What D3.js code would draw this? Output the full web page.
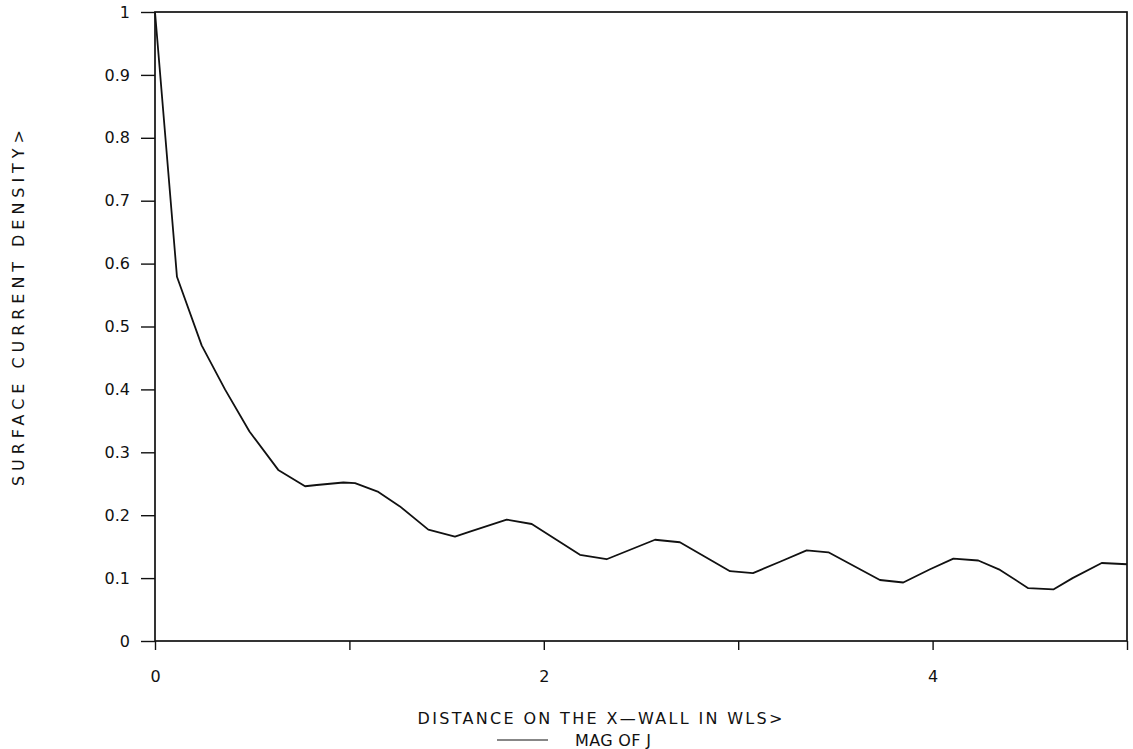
<!DOCTYPE html>
<html>
<head>
<meta charset="utf-8">
<script src="https://cdn.jsdelivr.net/npm/d3@7"></script>
<style>
  body { margin: 0; background: #fff; }
  text { font-family: "DejaVu Sans", sans-serif; fill: #111; }
</style>
</head>
<body>
<svg id="chart" width="1133" height="749"></svg>
<script>
// distance along the x-wall (wavelengths)
const distance = [0, 0.113, 0.24, 0.36, 0.486, 0.634, 0.772, 0.832, 0.969, 1.029, 1.149, 1.26,
  1.406, 1.543, 1.62, 1.809, 1.938, 2.186, 2.323, 2.572, 2.70, 2.958, 3.076, 3.215, 3.352,
  3.464, 3.729, 3.849, 3.987, 4.107, 4.235, 4.347, 4.492, 4.621, 4.72, 4.87, 5.0];
// magnitude of J
const magJ = [1.0, 0.579, 0.47, 0.40, 0.333, 0.272, 0.246, 0.248, 0.252, 0.251, 0.237, 0.214,
  0.177, 0.166, 0.174, 0.193, 0.186, 0.137, 0.130, 0.161, 0.157, 0.111, 0.108, 0.126, 0.144,
  0.141, 0.097, 0.093, 0.114, 0.131, 0.128, 0.113, 0.084, 0.082, 0.100, 0.124, 0.122];

const yTicks = d3.range(0, 11).map(i => i / 10);
const xTicks = [0, 1, 2, 3, 4, 5];
const xLabels = [0, 2, 4];

const svg = d3.select("#chart");
const plot = {left: 155, right: 1127, top: 12, bottom: 641};

const x = d3.scaleLinear().domain([0, 5]).range([plot.left, plot.right]);
const y = d3.scaleLinear().domain([0, 1]).range([plot.bottom, plot.top]);

// frame
svg.append("rect")
  .attr("x", plot.left).attr("y", plot.top)
  .attr("width", plot.right - plot.left).attr("height", plot.bottom - plot.top)
  .attr("fill", "none").attr("stroke", "#111").attr("stroke-width", 1.7);

// y axis
const yAxis = svg.append("g")
  .attr("transform", `translate(${plot.left},0)`)
  .call(d3.axisLeft(y).tickValues(yTicks).tickSize(14).tickPadding(11)
    .tickFormat(d => d === 0 ? "0" : d3.format("~g")(d)));
yAxis.select(".domain").remove();
yAxis.selectAll("line").attr("stroke", "#111").attr("stroke-width", 1.4);
yAxis.selectAll("text").attr("font-size", 16);

// x axis
const xAxis = svg.append("g")
  .attr("transform", `translate(0,${plot.bottom})`)
  .call(d3.axisBottom(x).tickValues(xTicks).tickSize(9).tickPadding(21)
    .tickFormat(d => xLabels.includes(d) ? d : ""));
xAxis.select(".domain").remove();
xAxis.selectAll("line").attr("stroke", "#111").attr("stroke-width", 1.4);
xAxis.selectAll("text").attr("font-size", 16);

// curve
svg.append("path")
  .datum(distance.map((d, i) => [d, magJ[i]]))
  .attr("fill", "none")
  .attr("stroke", "#111")
  .attr("stroke-width", 1.8)
  .attr("stroke-linejoin", "round")
  .attr("d", d3.line().x(d => x(d[0])).y(d => y(d[1])));

// axis titles
svg.append("text")
  .attr("x", 600).attr("y", 724)
  .attr("text-anchor", "middle")
  .attr("font-size", 16)
  .attr("textLength", 365).attr("lengthAdjust", "spacing")
  .text("DISTANCE ON THE X\u2014WALL IN WLS>");

svg.append("text")
  .attr("transform", "translate(24,308) rotate(-90)")
  .attr("text-anchor", "middle")
  .attr("font-size", 16)
  .attr("textLength", 356).attr("lengthAdjust", "spacing")
  .text("SURFACE CURRENT DENSITY>");

// legend
svg.append("line")
  .attr("x1", 497).attr("x2", 548).attr("y1", 740).attr("y2", 740)
  .attr("stroke", "#111").attr("stroke-width", 1.2);
svg.append("text")
  .attr("x", 575).attr("y", 746)
  .attr("font-size", 16)
  .attr("textLength", 76).attr("lengthAdjust", "spacing")
  .text("MAG OF J");
</script>
</body>
</html>
